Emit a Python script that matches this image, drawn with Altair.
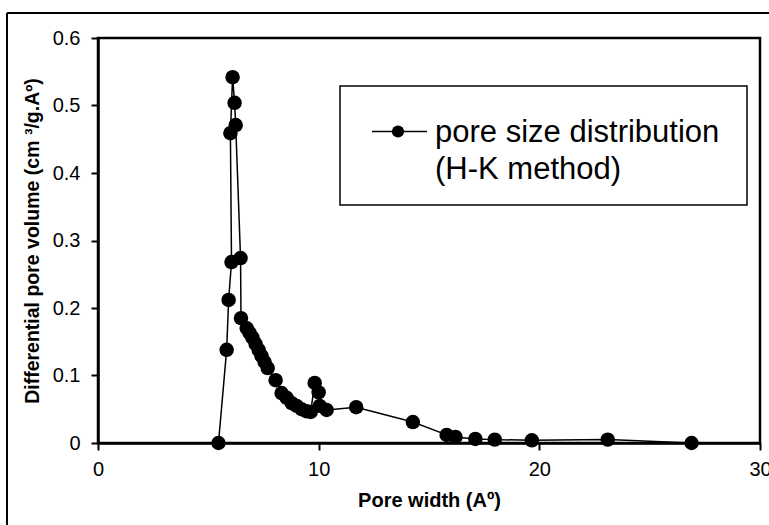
import altair as alt
import pandas as pd

# Horvath-Kawazoe pore size distribution
pore_width = [5.46, 5.83, 5.92, 6.05, 6.00, 6.10, 6.19, 6.24, 6.46, 6.48,
              6.74, 6.87, 7.00, 7.14, 7.28, 7.41, 7.55, 7.69, 8.05, 8.32,
              8.55, 8.78, 9.00, 9.23, 9.46, 9.64, 9.82, 10.00, 10.05, 10.36,
              11.70, 14.27, 15.80, 16.20, 17.10, 17.98, 19.66, 23.10, 26.90]
pore_volume = [0.000, 0.138, 0.212, 0.268, 0.459, 0.542, 0.504, 0.471, 0.274, 0.185,
               0.170, 0.163, 0.156, 0.147, 0.138, 0.129, 0.120, 0.111, 0.093, 0.074,
               0.067, 0.059, 0.055, 0.050, 0.047, 0.046, 0.089, 0.075, 0.055, 0.049,
               0.053, 0.031, 0.012, 0.009, 0.006, 0.005, 0.004, 0.005, 0.000]

x_ticks = [0, 10, 20, 30]
y_ticks = [0, 0.1, 0.2, 0.3, 0.4, 0.5, 0.6]

legend_lines = ["pore size distribution", "(H-K method)"]

df = pd.DataFrame({"w": pore_width, "v": pore_volume, "i": range(len(pore_width))})
one = pd.DataFrame({"k": [0]})

FONT = "Liberation Sans"
W, H = 662, 405

x_enc = alt.X("w:Q", scale=alt.Scale(domain=[0, 30], nice=False),
              axis=alt.Axis(values=x_ticks, title="Pore width (Aº)", grid=False,
                            labelFlush=False, labelOverlap=False, labelFontSize=20,
                            labelPadding=9, titleFontSize=20, titleFontWeight="bold",
                            titlePadding=11, tickSize=7, tickWidth=2, domainWidth=2.5,
                            domainColor="black", tickColor="black",
                            labelColor="black", titleColor="black",
                            labelFont=FONT, titleFont=FONT))
y_enc = alt.Y("v:Q", scale=alt.Scale(domain=[0, 0.6], nice=False),
              axis=alt.Axis(values=y_ticks, format=".1~f",
                            title="Differential pore volume (cm   ³/g.Aº)", grid=False,
                            labelFontSize=20, labelPadding=11, titleFontSize=19.5,
                            titleFontWeight="bold", titlePadding=10, tickSize=7,
                            tickWidth=2, domainWidth=2.5, domainColor="black",
                            tickColor="black", labelColor="black", titleColor="black",
                            labelFont=FONT, titleFont=FONT, labelOverlap=False))

line = alt.Chart(df).mark_line(color="black", strokeWidth=1.5).encode(
    x=x_enc, y=y_enc, order="i:Q")
points = alt.Chart(df).mark_point(filled=True, color="black", size=210, opacity=1).encode(
    x="w:Q", y="v:Q")

# legend box
legend_box = alt.Chart(one).mark_rect(fill="white", stroke="black", strokeWidth=1.5).encode(
    x=alt.value(242), x2=alt.value(649), y=alt.value(48), y2=alt.value(167))
legend_rule = alt.Chart(one).mark_rule(color="black", strokeWidth=1.5).encode(
    x=alt.value(274), x2=alt.value(329), y=alt.value(93.5))
legend_dot = alt.Chart(one).mark_point(filled=True, color="black", size=150, opacity=1).encode(
    x=alt.value(300), y=alt.value(93.5))
legend_text1 = alt.Chart(one).mark_text(
    align="left", baseline="alphabetic", fontSize=31, font=FONT, color="black",
    text=legend_lines[0]).encode(x=alt.value(337), y=alt.value(104))
legend_text2 = alt.Chart(one).mark_text(
    align="left", baseline="alphabetic", fontSize=31, font=FONT, color="black",
    text=legend_lines[1]).encode(x=alt.value(337), y=alt.value(141))

# outer frame of the figure
frame_top = alt.Chart(one).mark_rule(color="black", strokeWidth=2).encode(
    x=alt.value(-91), x2=alt.value(672), y=alt.value(-25))
frame_left = alt.Chart(one).mark_rule(color="black", strokeWidth=2).encode(
    x=alt.value(-91), y=alt.value(-25), y2=alt.value(490))

chart = alt.layer(
    frame_top, frame_left, line, points, legend_box, legend_rule, legend_dot,
    legend_text1, legend_text2
).properties(
    width=W, height=H,
    autosize=alt.AutoSizeParams(type="none"),
    padding={"left": 98, "top": 38, "right": 9, "bottom": 82},
    background="white",
).configure_view(stroke="black", strokeWidth=2.5)

chart.save("out.html", embed_options={"renderer": "svg", "actions": False})
